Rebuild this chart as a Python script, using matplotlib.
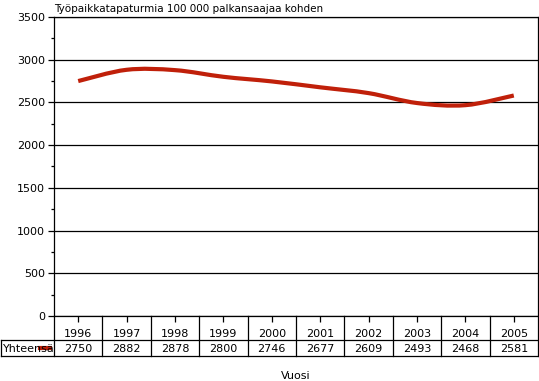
import matplotlib
matplotlib.use("Agg")
import matplotlib.pyplot as plt
from matplotlib.path import Path
from matplotlib.patches import PathPatch
from matplotlib.ticker import MultipleLocator
from matplotlib.transforms import blended_transform_factory

years = [1996, 1997, 1998, 1999, 2000, 2001, 2002, 2003, 2004, 2005]
yhteensa = [2750, 2882, 2878, 2800, 2746, 2677, 2609, 2493, 2468, 2581]
series_name = "Yhteensä"
title = "Työpaikkatapaturmia 100 000 palkansaajaa kohden"
xlabel = "Vuosi"

W, H = 539, 381
RED = "#c0200a"
FS = 8

fig = plt.figure(figsize=(W / 100, H / 100), dpi=100)
# pixel positions
left, right, top, bottom = 54, 538, 17, 316
ax = fig.add_axes([left / W, 1 - bottom / H, (right - left) / W, (bottom - top) / H])


def smooth_path(xs, ys):
    # smoothed line like the spreadsheet one: cubic Bezier through the points
    pts = list(zip(xs, ys))
    verts = [pts[0]]
    codes = [Path.MOVETO]
    n = len(pts)
    for i in range(n - 1):
        p0 = pts[max(i - 1, 0)]
        p1 = pts[i]
        p2 = pts[i + 1]
        p3 = pts[min(i + 2, n - 1)]
        c1 = (p1[0] + (p2[0] - p0[0]) / 6, p1[1] + (p2[1] - p0[1]) / 6)
        c2 = (p2[0] - (p3[0] - p1[0]) / 6, p2[1] - (p3[1] - p1[1]) / 6)
        verts += [c1, c2, p2]
        codes += [Path.CURVE4] * 3
    return Path(verts, codes)


ax.add_patch(PathPatch(smooth_path(years, yhteensa), facecolor="none",
                       edgecolor=RED, lw=3.0, capstyle="butt", zorder=3))

ax.set_xlim(years[0] - 0.5, years[-1] + 0.5)
ax.set_ylim(0, 3500)
ax.yaxis.set_major_locator(MultipleLocator(500))
ax.yaxis.set_minor_locator(MultipleLocator(250))
ax.grid(axis="y", color="black", lw=0.9)
ax.set_axisbelow(True)
for s in ax.spines.values():
    s.set_color("black")
    s.set_linewidth(0.9)
ax.tick_params(axis="y", which="major", length=4.5, width=0.9, labelsize=FS, pad=2)
ax.tick_params(axis="y", which="minor", length=2.5, width=0.9)
ax.set_xticks(years)
ax.tick_params(axis="x", length=4.5, width=0.9, labelbottom=False)

ax.text(0.0, 1.01, title, transform=ax.transAxes, fontsize=7.5, ha="left", va="bottom")

# data table under the plot
def fy(py):
    return 1 - py / H

tr = blended_transform_factory(ax.transData, fig.transFigure)
row1, row2 = 340, 356
lw = 0.9
x0 = years[0] - 0.5
fig.add_artist(plt.Line2D([1 / W, right / W], [fy(row1), fy(row1)], color="black", lw=lw))
fig.add_artist(plt.Line2D([1 / W, right / W], [fy(row2), fy(row2)], color="black", lw=lw))
fig.add_artist(plt.Line2D([1 / W, 1 / W], [fy(row1), fy(row2)], color="black", lw=lw))
for i in range(len(years) + 1):
    xb = x0 + i
    fig.add_artist(plt.Line2D([xb, xb], [fy(bottom), fy(row2)], color="black", lw=lw, transform=tr))

for yr, v in zip(years, yhteensa):
    fig.text(yr, fy(334), str(yr), transform=tr, ha="center", va="center", fontsize=FS)
    fig.text(yr, fy(348.5), str(v), transform=tr, ha="center", va="center", fontsize=FS)

fig.text(3 / W, fy(348.5), series_name, ha="left", va="center", fontsize=FS)
fig.add_artist(plt.Line2D([40 / W, 50 / W], [fy(348), fy(348)], color=RED, lw=3.0))

fig.text((left + right) / 2 / W, fy(376), xlabel, ha="center", va="center", fontsize=FS)

fig.savefig("out.png", dpi=100)
